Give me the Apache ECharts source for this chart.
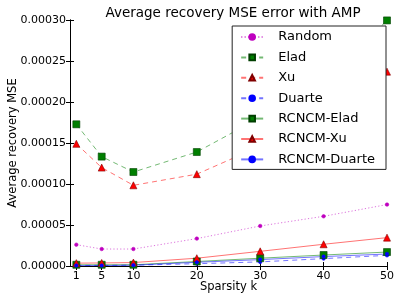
<!DOCTYPE html>
<html><head><meta charset="utf-8">
<script src="https://cdn.jsdelivr.net/npm/echarts@6/dist/echarts.min.js"></script>
<style>html,body{margin:0;padding:0;background:#fff}#c{width:399px;height:298px}</style>
</head><body><div id="c"></div>
<script>
const kValues = [1, 5, 10, 20, 30, 40, 50];
const xTicks = [1, 5, 10, 20, 30, 40, 50];
const random = [2.6e-5, 2.07e-5, 2.07e-5, 3.34e-5, 4.88e-5, 6.06e-5, 7.49e-5];
const elad = [1.728e-4, 1.334e-4, 1.146e-4, 1.39e-4, 1.81e-4, 2.23e-4, 2.995e-4];
const xu = [1.49e-4, 1.2e-4, 9.84e-5, 1.12e-4, 1.46e-4, 1.9e-4, 2.37e-4];
const duarte = [0.8e-6, 0.8e-6, 1.0e-6, 2.8e-6, 5.0e-6, 9.0e-6, 1.3e-5];
const rcncmElad = [1.5e-6, 1.5e-6, 1.5e-6, 5.5e-6, 9.5e-6, 1.34e-5, 1.7e-5];
const rcncmXu = [3.5e-6, 3.7e-6, 4.2e-6, 9.5e-6, 1.79e-5, 2.65e-5, 3.46e-5];
const rcncmDuarte = [0.5e-6, 0.5e-6, 1.0e-6, 4.5e-6, 7.8e-6, 1.15e-5, 1.46e-5];
const yTicks = [0, 0.00005, 0.0001, 0.00015, 0.0002, 0.00025, 0.0003];

const FONT = 'DejaVu Sans';
const pair = arr => kValues.map((k, i) => [k, arr[i]]);

function mk(name, data, color, edge, lineType, symbol, size) {
  return {
    name, type: 'line', data: pair(data),
    symbol, symbolSize: size,
    lineStyle: { color, width: 1, type: lineType, opacity: 0.55 },
    itemStyle: { color, borderColor: edge, borderWidth: 0.6 },
    emphasis: { disabled: true }, animation: false
  };
}

const series = [
  mk('Random', random, '#bf00bf', '#bf00bf', [1.2, 2.2], 'circle', 3.5),
  mk('Elad', elad, '#007f00', '#003f00', [5, 4], 'rect', 7),
  mk('Xu', xu, '#ff0000', '#7f0000', [5, 4], 'triangle', 7),
  mk('Duarte', duarte, '#0000ff', '#0000ff', [5, 4], 'circle', 3.5),
  mk('RCNCM-Elad', rcncmElad, '#007f00', '#003f00', 'solid', 'rect', 7),
  mk('RCNCM-Xu', rcncmXu, '#ff0000', '#7f0000', 'solid', 'triangle', 7),
  mk('RCNCM-Duarte', rcncmDuarte, '#0000ff', '#0000ff', 'solid', 'circle', 3.5)
];

const axisLine = { show: true, lineStyle: { color: '#000', width: 1 } };
const chart = echarts.init(document.getElementById('c'), null, { renderer: 'canvas' });
chart.setOption({
  animation: false,
  backgroundColor: '#fff',
  title: {
    text: 'Average recovery MSE error with AMP', left: 228, top: 1, textAlign: 'center',
    textStyle: { fontFamily: FONT, fontSize: 13.5, fontWeight: 'normal', color: '#000' }
  },
  grid: { left: 70, right: 12, top: 20, bottom: 32, containLabel: false, outerBoundsMode: 'none' },
  legend: {
    orient: 'vertical', right: 13, top: 26,
    backgroundColor: '#fff', borderColor: '#222', borderWidth: 1,
    padding: [4, 11, 3, 8], itemGap: 6.4, itemWidth: 22, itemHeight: 7,
    textStyle: { fontFamily: FONT, fontSize: 13, lineHeight: 14, color: '#000', padding: [0, 0, 0, 10] },
    data: series.map(s => s.name)
  },
  xAxis: [{
    type: 'value', min: 0, max: 50, position: 'bottom',
    name: 'Sparsity k', nameLocation: 'middle', nameGap: 15, nameMoveOverlap: false,
    nameTextStyle: { fontFamily: FONT, fontSize: 11.5, color: '#000' },
    axisLine, splitLine: { show: false },
    axisTick: { inside: true, length: 4, customValues: xTicks, lineStyle: { color: '#000' } },
    axisLabel: { customValues: xTicks, fontFamily: FONT, fontSize: 11, color: '#000', margin: 5 }
  }, {
    type: 'value', min: 0, max: 50, position: 'top',
    axisLine, splitLine: { show: false },
    axisTick: { inside: true, length: 4, customValues: xTicks, lineStyle: { color: '#000' } },
    axisLabel: { show: false }
  }],
  yAxis: [{
    type: 'value', min: 0, max: 0.0003, interval: 0.00005, position: 'left',
    name: 'Average recovery MSE', nameLocation: 'middle', nameGap: 51, nameMoveOverlap: false,
    nameTextStyle: { fontFamily: FONT, fontSize: 11.5, color: '#000' },
    axisLine, splitLine: { show: false },
    axisTick: { inside: true, length: 4, lineStyle: { color: '#000' } },
    axisLabel: { fontFamily: FONT, fontSize: 11, color: '#000', margin: 4, formatter: v => v.toFixed(5) }
  }, {
    type: 'value', min: 0, max: 0.0003, interval: 0.00005, position: 'right',
    axisLine, splitLine: { show: false },
    axisTick: { inside: true, length: 4, lineStyle: { color: '#000' } },
    axisLabel: { show: false }
  }],
  series
});
</script></body></html>
